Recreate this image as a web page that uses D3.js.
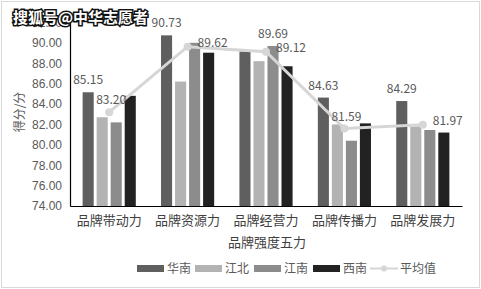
<!DOCTYPE html>
<html>
<head>
<meta charset="utf-8">
<script src="https://cdn.jsdelivr.net/npm/d3@7"></script>
<style>
	body { margin: 0; background: #fff; }
	svg { display: block; font-family: "Microsoft YaHei", "Noto Sans CJK SC", sans-serif; }
</style>
</head>
<body>
<div id="chart"></div>
<script>
// data
var categories = ["品牌带动力", "品牌资源力", "品牌经营力", "品牌传播力", "品牌发展力"];
var seriesNames = ["华南", "江北", "江南", "西南"];
var huanan = [85.15, 90.73, 89.15, 84.63, 84.29];
var jiangbei = [82.7, 86.2, 88.2, 82.0, 81.8];
var jiangnan = [82.2, 90.0, 89.69, 80.4, 81.45];
var xinan = [84.8, 89.03, 87.7, 82.1, 81.2];
var average = [83.20, 89.62, 89.12, 81.59, 81.97];
var yTicks = [74, 76, 78, 80, 82, 84, 86, 88, 90, 92];

(function() {

	var width = 481, height = 289;
	var colors = ["#5f5f5f", "#b3b3b3", "#8c8c8c", "#222222"];
	var lineColor = "#d6d6d6";
	var textColor = "#595959";
	var series = [huanan, jiangbei, jiangnan, xinan];
	// which side of the point the average label goes
	var avgLabelSide = ["above", "right", "right", "above", "right"];

	var svg = d3.select("#chart").append("svg")
		.attr("width", width)
		.attr("height", height);

	// outer border
	svg.append("rect")
		.attr("x", 1.5).attr("y", 1.5)
		.attr("width", width - 3).attr("height", height - 3)
		.attr("fill", "#fff")
		.attr("stroke", "#d9d9d9");

	var x0 = d3.scaleBand().domain(categories).range([70, 462]);
	var x1 = d3.scaleBand().domain(seriesNames).range([0, x0.bandwidth()])
		.paddingInner(0.21).paddingOuter(0.9);
	var y = d3.scaleLinear().domain([74, 92]).range([206, 22.4]);

	// bars
	seriesNames.forEach(function(name, s) {
		svg.append("g").selectAll("rect")
			.data(series[s]).enter()
			.append("rect")
				.attr("x", function(d, i) { return x0(categories[i]) + x1(name); })
				.attr("y", function(d) { return y(d); })
				.attr("width", x1.bandwidth())
				.attr("height", function(d) { return y(74) - y(d); })
				.attr("fill", colors[s]);
	});

	// max labels above the tallest bar of each group
	categories.forEach(function(c, i) {
		var best = 0;
		series.forEach(function(sv, s) { if (sv[i] > series[best][i]) best = s; });
		svg.append("text")
			.attr("x", x0(c) + x1(seriesNames[best]) + x1.bandwidth() / 2)
			.attr("y", y(series[best][i]) - 8)
			.attr("text-anchor", "middle")
			.attr("font-size", 12)
			.attr("fill", textColor)
			.text(series[best][i].toFixed(2));
	});

	// average line
	var cx = function(d, i) { return x0(categories[i]) + x0.bandwidth() / 2; };
	svg.append("path")
		.datum(average)
		.attr("d", d3.line().x(cx).y(function(d) { return y(d); }))
		.attr("fill", "none")
		.attr("stroke", lineColor)
		.attr("stroke-width", 3);
	svg.append("g").selectAll("circle")
		.data(average).enter()
		.append("circle")
			.attr("cx", cx)
			.attr("cy", function(d) { return y(d); })
			.attr("r", 4)
			.attr("fill", lineColor);
	svg.append("g").selectAll("text")
		.data(average).enter()
		.append("text")
			.attr("x", function(d, i) { return avgLabelSide[i] == "above" ? cx(d, i) + 2 : cx(d, i) + 10; })
			.attr("y", function(d, i) { return avgLabelSide[i] == "above" ? y(d) - 8 : y(d) + 0; })
			.attr("text-anchor", function(d, i) { return avgLabelSide[i] == "above" ? "middle" : "start"; })
			.attr("font-size", 12)
			.attr("fill", textColor)
			.text(function(d) { return d.toFixed(2); });

	// y axis
	var yAxis = svg.append("g")
		.attr("transform", "translate(70,0)")
		.call(d3.axisLeft(y).tickValues(yTicks).tickSize(0).tickPadding(8)
			.tickFormat(function(d) { return d.toFixed(2); }));
	yAxis.select(".domain").attr("stroke", "#000").attr("stroke-width", 1.2);
	yAxis.selectAll("text")
		.attr("font-size", 12)
		.attr("fill", textColor)
		.attr("font-family", "Liberation Sans, Arial, sans-serif");

	// x axis
	var xAxis = svg.append("g")
		.attr("transform", "translate(0,206)")
		.call(d3.axisBottom(x0).tickSize(0).tickPadding(10).tickSizeOuter(0));
	xAxis.select(".domain").attr("stroke", "#000").attr("stroke-width", 1.2);
	xAxis.selectAll("text")
		.attr("font-size", 13)
		.attr("fill", "#404040")
		.attr("font-family", "Noto Sans CJK SC, sans-serif");

	// axis titles
	svg.append("text")
		.attr("x", 267).attr("y", 247)
		.attr("text-anchor", "middle")
		.attr("font-size", 13)
		.attr("fill", "#404040")
		.text("品牌强度五力");
	svg.append("text")
		.attr("transform", "translate(24,112) rotate(-90)")
		.attr("text-anchor", "middle")
		.attr("font-size", 12)
		.attr("fill", textColor)
		.text("得分/分");

	// legend
	var legend = svg.append("g").attr("transform", "translate(137,268)");
	var legendX = [0, 58, 117, 176];
	seriesNames.forEach(function(name, s) {
		legend.append("rect")
			.attr("x", legendX[s]).attr("y", -3)
			.attr("width", 27).attr("height", 7)
			.attr("fill", colors[s]);
		legend.append("text")
			.attr("x", legendX[s] + 30).attr("y", 5)
			.attr("font-size", 12)
			.attr("fill", textColor)
			.text(name);
	});
	legend.append("line")
		.attr("x1", 233).attr("x2", 261)
		.attr("y1", 0.5).attr("y2", 0.5)
		.attr("stroke", lineColor).attr("stroke-width", 2);
	legend.append("circle")
		.attr("cx", 247).attr("cy", 0.5).attr("r", 3)
		.attr("fill", lineColor);
	legend.append("text")
		.attr("x", 263).attr("y", 5)
		.attr("font-size", 12)
		.attr("fill", textColor)
		.text("平均值");

	// watermark
	svg.append("text")
		.attr("x", 13).attr("y", 23)
		.attr("font-size", 15)
		.attr("font-weight", "bold")
		.attr("textLength", 135)
		.attr("lengthAdjust", "spacingAndGlyphs")
		.attr("fill", "#fff")
		.attr("stroke", "#111")
		.attr("stroke-width", 3)
		.attr("paint-order", "stroke")
		.text("搜狐号@中华志愿者");

})();
</script>
</body>
</html>
